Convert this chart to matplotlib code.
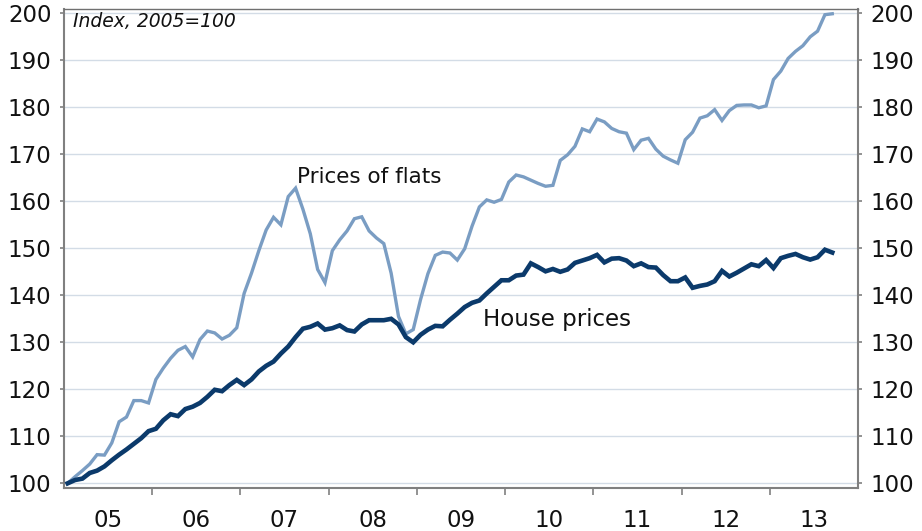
import matplotlib
matplotlib.use("Agg")
import matplotlib.pyplot as plt
import numpy as np

# Monthly data, Jan 2005 - Sep 2013 (index, 2005=100)
house_prices = [100.0, 100.7, 101.0, 102.2, 102.7, 103.6, 104.9, 106.1, 107.2, 108.4,
                109.6, 111.1, 111.6, 113.4, 114.7, 114.3, 115.8, 116.3, 117.1, 118.4,
                119.9, 119.6, 120.9, 122.0, 120.9, 122.1, 123.8, 125.0, 125.9, 127.6,
                129.1, 131.1, 132.9, 133.3, 134.0, 132.7, 133.0, 133.6, 132.6, 132.3,
                133.8, 134.7, 134.7, 134.7, 135.0, 133.8, 131.1, 130.0, 131.6, 132.7,
                133.5, 133.4, 134.8, 136.1, 137.5, 138.4, 138.9, 140.4, 141.8, 143.2,
                143.2, 144.2, 144.4, 146.8, 146.0, 145.1, 145.6, 145.0, 145.5, 146.9,
                147.4, 147.9, 148.6, 147.0, 147.8, 147.9, 147.4, 146.2, 146.8, 146.0,
                145.9, 144.3, 143.0, 143.0, 143.8, 141.6, 142.0, 142.3, 143.0, 145.2,
                144.0, 144.8, 145.7, 146.6, 146.2, 147.5, 145.8, 147.9, 148.4, 148.8,
                148.1, 147.6, 148.1, 149.7, 149.1]

flat_prices = [100.0, 101.4, 102.7, 104.1, 106.1, 106.0, 108.6, 113.1, 114.1, 117.6,
               117.6, 117.1, 122.1, 124.5, 126.6, 128.3, 129.1, 126.9, 130.6, 132.4,
               132.0, 130.7, 131.5, 133.1, 140.4, 144.7, 149.5, 153.9, 156.6, 155.0,
               161.0, 162.8, 158.3, 153.1, 145.5, 142.7, 149.5, 151.8, 153.7, 156.3,
               156.7, 153.7, 152.2, 151.0, 144.7, 135.5, 131.8, 132.7, 139.1, 144.6,
               148.5, 149.2, 149.0, 147.5, 149.9, 154.7, 158.8, 160.3, 159.8, 160.4,
               164.1, 165.6, 165.2, 164.5, 163.8, 163.2, 163.4, 168.7, 169.9, 171.7,
               175.4, 174.8, 177.5, 176.9, 175.5, 174.8, 174.5, 171.0, 173.0, 173.4,
               171.1, 169.6, 168.8, 168.1, 173.1, 174.7, 177.7, 178.2, 179.5, 177.2,
               179.3, 180.4, 180.5, 180.5, 179.9, 180.3, 185.9, 187.7, 190.4, 191.9,
               193.1, 195.0, 196.2, 199.7, 199.9]

year_labels = ["05", "06", "07", "08", "09", "10", "11", "12", "13"]
y_ticks = [100, 110, 120, 130, 140, 150, 160, 170, 180, 190, 200]

plt.rcParams['font.family'] = ['DejaVu Sans']

fig = plt.figure(figsize=(9.22, 5.31), dpi=100)
ax = fig.add_axes([64/922, 1 - 488.3/531, (858 - 64)/922, (488.3 - 9.3)/531])

months = np.arange(len(house_prices)) + 0.5
flat_col = '#7A9DC3'
house_col = '#0B3A6B'

for y in y_ticks:
    ax.axhline(y, color='#d3dce6', lw=1.0, zorder=0)

ax.plot(months, flat_prices, color=flat_col, lw=2.4, solid_joinstyle='miter', zorder=3)
ax.plot(months, house_prices, color=house_col, lw=3.3, solid_joinstyle='miter', zorder=4)

ax.set_xlim(0, 12 * len(year_labels))
ax.set_ylim(98.94, 200.85)

ax.set_xticks(np.arange(12, 12 * len(year_labels), 12))
ax.set_xticklabels([])
ax.set_xticks(np.arange(len(year_labels)) * 12 + 6, minor=True)
ax.set_xticklabels(year_labels, minor=True)
ax.tick_params(axis='x', which='major', direction='out', length=5, width=1.2, color='#808080')
ax.tick_params(axis='x', which='minor', length=0, pad=15, labelsize=16.5, colors='#111111')

ax.set_yticks(y_ticks)
ax.set_yticklabels([str(v) for v in y_ticks])
ax.tick_params(axis='y', direction='out', length=3, width=1.2, color='#808080',
               left=True, right=True, labelleft=True, labelright=True,
               labelsize=16.5, labelcolor='#111111', pad=6)

for side in ['left', 'bottom', 'right']:
    ax.spines[side].set_color('#808080')
    ax.spines[side].set_linewidth(1.5)
ax.spines['top'].set_color('#707070')
ax.spines['top'].set_linewidth(1.0)

ax.text(1.2, 198.3, "Index, 2005=100", fontsize=13.5, style='italic', va='center', ha='left',
        color='#111111')
ax.text(31.7, 165.2, "Prices of flats", fontsize=15.5, va='center', ha='left', color='#111111')
ax.text(57.0, 134.8, "House prices", fontsize=16.5, va='center', ha='left', color='#111111')

fig.savefig("out.png", dpi=100)
